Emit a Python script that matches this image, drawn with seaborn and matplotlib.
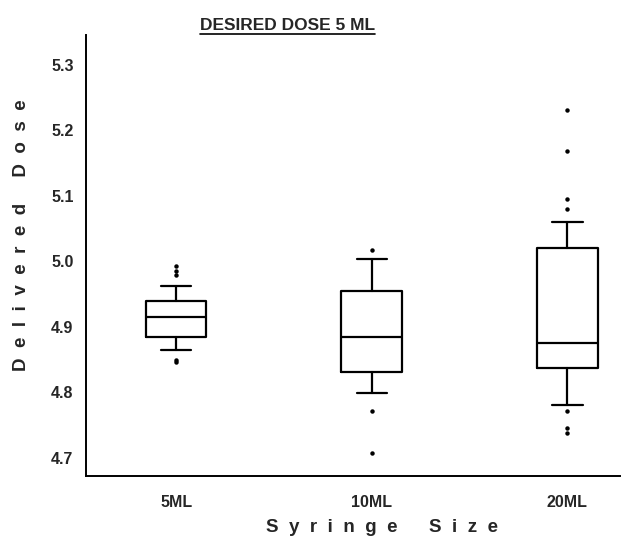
import matplotlib
matplotlib.use("Agg")
import matplotlib.pyplot as plt
import seaborn as sns
import pandas as pd
from matplotlib.lines import Line2D

# %%
# summary values
sizes = ["5ML", "10ML", "20ML"]
whisker_lo = [4.865, 4.799, 4.781]
q1 = [4.885, 4.831, 4.837]
median = [4.915, 4.884, 4.875]
q3 = [4.940, 4.955, 5.021]
whisker_hi = [4.963, 5.004, 5.060]

outliers_5ml = [4.993, 4.986, 4.979, 4.850, 4.847]
outliers_10ml = [5.018, 4.771, 4.707]
outliers_20ml = [5.231, 5.168, 5.096, 5.080, 4.772, 4.746, 4.738]

# %%
sns.set_style("white")
plt.rcParams["font.family"] = ["Liberation Sans", "DejaVu Sans"]

fig = plt.figure(figsize=(6.24, 5.4), dpi=100)
ax = fig.add_axes([0.138, 0.1185, 0.856, 0.817])

fliers = pd.DataFrame(
    {
        "size": ["5ML"] * len(outliers_5ml)
        + ["10ML"] * len(outliers_10ml)
        + ["20ML"] * len(outliers_20ml),
        "dose": outliers_5ml + outliers_10ml + outliers_20ml,
    }
)
sns.stripplot(
    data=fliers, x="size", y="dose", order=sizes, jitter=False,
    color="black", size=3.2, linewidth=0, ax=ax,
)

stats = []
for i, name in enumerate(sizes):
    stats.append(
        {
            "label": name,
            "whislo": whisker_lo[i],
            "q1": q1[i],
            "med": median[i],
            "q3": q3[i],
            "whishi": whisker_hi[i],
            "fliers": [],
        }
    )
line_kw = dict(color="black", linewidth=1.6)
ax.bxp(
    stats, positions=range(len(sizes)), widths=0.31, showfliers=False,
    manage_ticks=False, boxprops=line_kw, whiskerprops=line_kw,
    capprops=line_kw, medianprops=line_kw,
)

ax.set_xlim(-0.46, 2.27)
ax.set_ylim(4.6725, 5.346)
ax.set_xticks(range(len(sizes)))
ax.set_xticklabels(sizes)
ax.set_yticks([4.7, 4.8, 4.9, 5.0, 5.1, 5.2, 5.3])
ax.set_yticklabels(["4.7", "4.8", "4.9", "5.0", "5.1", "5.2", "5.3"])
ax.tick_params(axis="both", length=0)
ax.tick_params(axis="y", pad=9, labelsize=11.5)
ax.tick_params(axis="x", pad=14, labelsize=11.5)
for lab in ax.get_xticklabels() + ax.get_yticklabels():
    lab.set_fontweight("bold")

sns.despine(ax=ax)
for side in ["left", "bottom"]:
    ax.spines[side].set_color("black")
    ax.spines[side].set_linewidth(1.4)

ax.set_xlabel("S  y  r  i  n  g  e      S  i  z  e", fontsize=13.5, fontweight="bold")
ax.xaxis.set_label_coords(0.554, -0.098)
ax.set_ylabel("D  e  l  i  v  e  r  e  d     D  o  s  e", fontsize=13.5, fontweight="bold")
ax.yaxis.set_label_coords(-0.105, 0.546)

title = fig.text(
    0.461, 0.953, "DESIRED DOSE 5 ML", ha="center", va="center",
    fontsize=12.5, fontweight="bold",
)

# underline the title
fig.canvas.draw()
bb = title.get_window_extent().transformed(fig.transFigure.inverted())
fig.add_artist(
    Line2D([bb.x0, bb.x1], [bb.y0 - 0.002, bb.y0 - 0.002],
           transform=fig.transFigure, color="black", linewidth=1.2)
)

fig.savefig("out.png", dpi=100)
